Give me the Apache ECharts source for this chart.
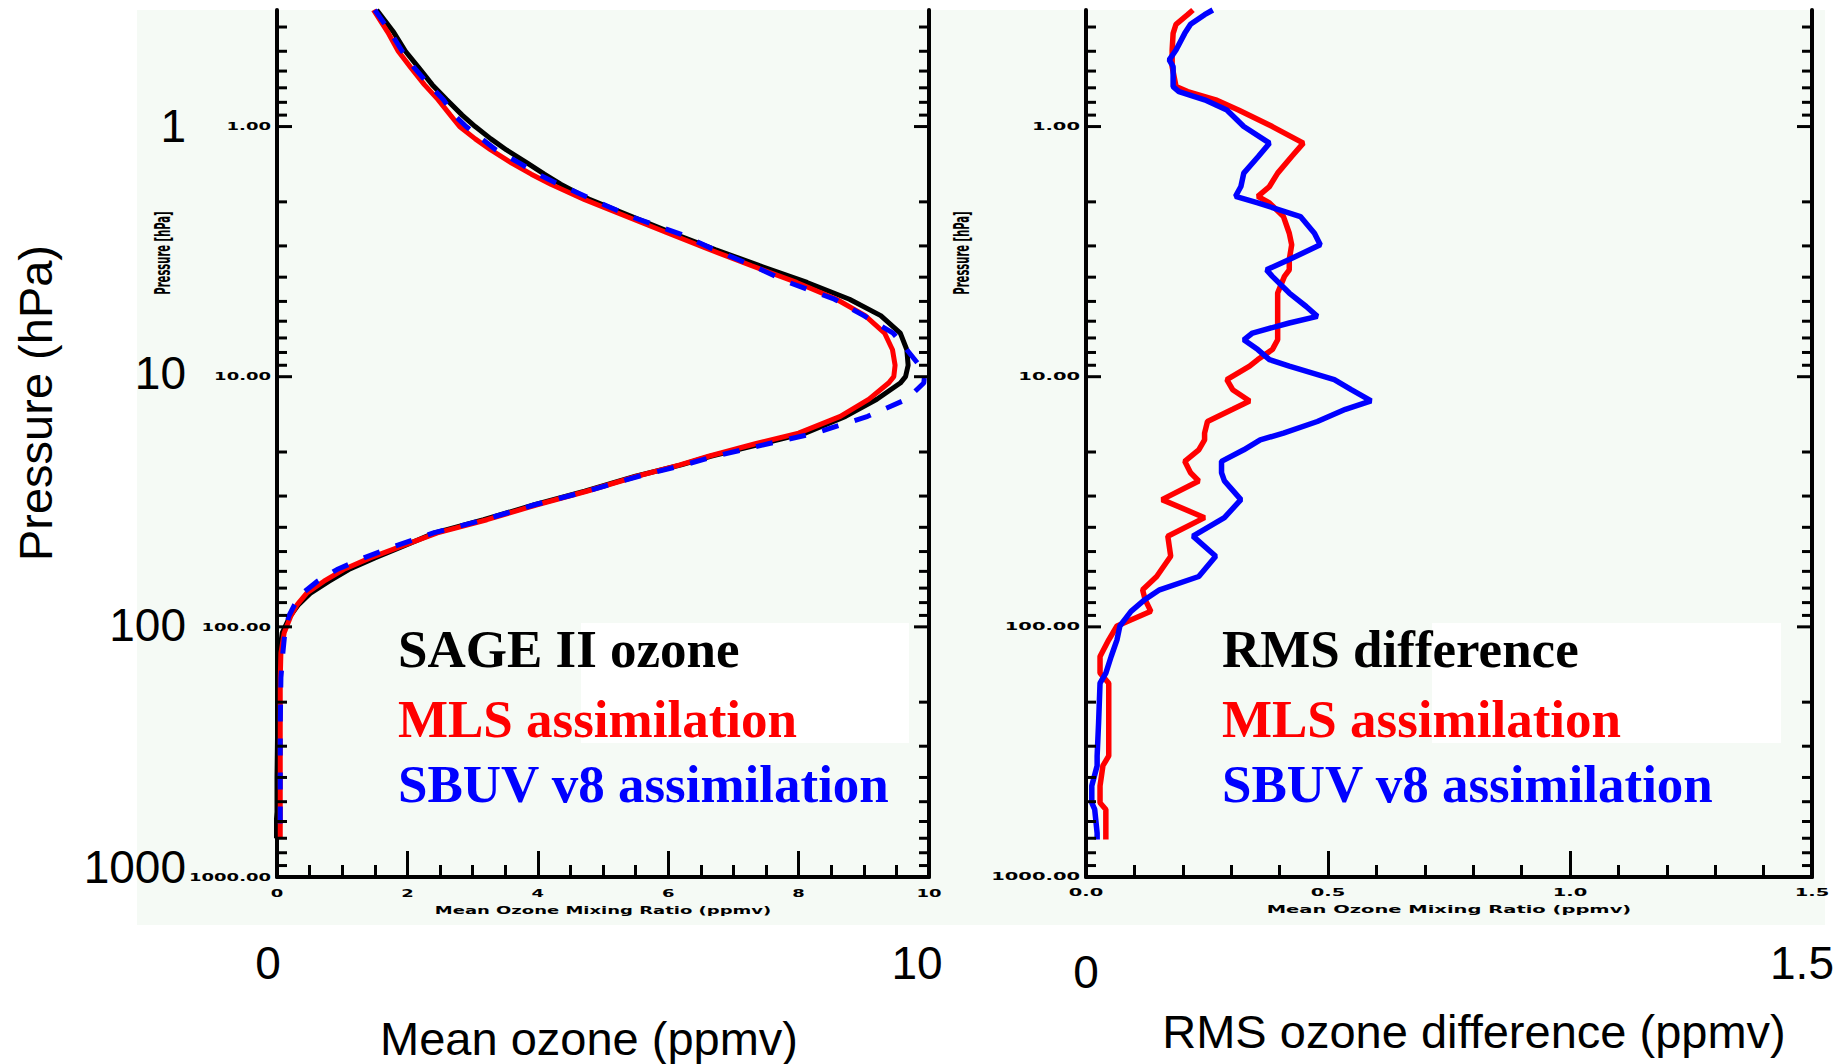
<!DOCTYPE html>
<html><head><meta charset="utf-8">
<script src="https://cdn.jsdelivr.net/npm/echarts@6/dist/echarts.min.js"></script>
<style>html,body{margin:0;padding:0;background:#fff}#c{width:1837px;height:1064px}</style>
</head><body><div id="c"></div>
<script>
// ---------- data ----------
const pressureMean = [0.342,0.42,0.5,0.58,0.68,0.78,0.9,1.0,1.12,1.24,
  1.4,1.55,1.7,1.96,2.3,2.7,3.1,3.6,4.2,4.9,
  5.7,6.7,7.8,9.0,10,10.6,12.3,14.4,16.8,18.5,
  20.8,22.5,25,28.7,32.5,37.3,42.1,48.3,53,59,
  65.7,73.1,81.5,90.7,105.7,127,160,250,400,550,700];
const sageOzone = [1.53,1.79,1.97,2.17,2.38,2.60,2.84,3.04,3.28,3.52,
  3.84,4.10,4.35,4.80,5.46,6.12,6.72,7.40,8.13,8.78,
  9.26,9.56,9.66,9.68,9.64,9.56,9.20,8.72,8.10,7.45,
  6.65,6.20,5.50,4.72,3.95,3.17,2.42,1.88,1.50,1.10,
  0.80,0.52,0.33,0.20,0.08,0.04,0.02,0.01,0.0,0.0,-0.03];
const mlsOzone = [1.48,1.70,1.86,2.05,2.26,2.47,2.66,2.80,3.04,3.28,
  3.60,3.90,4.20,4.72,5.38,6.05,6.63,7.28,7.97,8.58,
  9.02,9.32,9.44,9.48,9.46,9.38,9.08,8.64,8.00,7.35,
  6.62,6.18,5.52,4.75,3.99,3.22,2.46,1.84,1.43,1.02,
  0.72,0.46,0.31,0.21,0.11,0.06,0.05,0.05,0.05,0.05,0.05];
const sbuvOzone = [1.50,1.74,1.92,2.10,2.33,2.55,2.72,2.90,3.14,3.36,
  3.72,4.00,4.32,4.84,5.45,6.20,6.70,7.30,7.85,8.55,
  9.00,9.45,9.66,9.85,9.93,9.92,9.66,9.06,8.26,7.55,
  6.72,6.25,5.55,4.75,3.95,3.18,2.40,1.74,1.33,0.92,
  0.62,0.40,0.27,0.18,0.12,0.09,0.06,0.05,0.05,0.05,0.05];

const pressureRms = [0.342,0.357,0.39,0.424,0.494,0.541,0.576,0.692,0.725,0.782,
  0.858,1.0,1.165,1.318,1.535,1.737,1.9,2.02,2.29,2.67,
  2.97,3.40,3.74,3.97,4.63,5.24,5.74,6.10,6.69,7.12,
  7.79,8.54,9.08,10.27,11.27,12.5,13.5,15.1,16.8,17.9,
  19.6,21.8,24.2,26.1,31,36.6,43.4,52.2,62.9,71.1,
  77.7,86.7,99.2,112.7,131.4,153,168,242,328,359,
  432,505,537,668,708];
const mlsRms = [0.221,0.21,0.186,0.18,0.178,0.178,0.178,0.186,0.21,0.268,
  0.315,0.385,0.449,0.425,0.396,0.379,0.355,0.379,0.408,0.42,
  0.425,0.42,0.42,0.41,0.396,0.396,0.396,0.396,0.396,0.396,
  0.385,0.355,0.338,0.291,0.303,0.338,0.303,0.251,0.245,0.245,
  0.233,0.204,0.216,0.233,0.157,0.245,0.169,0.175,0.146,0.117,
  0.122,0.134,0.064,0.047,0.029,0.029,0.047,0.047,0.047,0.035,
  0.029,0.029,0.041,0.041,0.041];
const sbuvRms = [0.262,0.245,0.216,0.204,0.186,0.172,0.18,0.18,0.192,0.245,
  0.291,0.326,0.379,0.356,0.326,0.32,0.309,0.355,0.443,0.472,
  0.484,0.42,0.373,0.385,0.42,0.455,0.478,0.42,0.344,0.326,
  0.355,0.379,0.42,0.513,0.548,0.589,0.536,0.478,0.408,0.36,
  0.326,0.28,0.28,0.286,0.32,0.286,0.221,0.268,0.233,0.152,
  0.122,0.093,0.07,0.064,0.052,0.041,0.029,0.026,0.023,0.023,
  0.012,0.012,0.018,0.023,0.023];

// ticks and tick labels
const yMajorTicks = [1,10,100,1000];
const yTickLabels = ['1.00','10.00','100.00','1000.00'];
const yMinorTicks = [0.4,0.5,0.6,0.7,0.8,0.9,2,3,4,5,6,7,8,9,20,30,40,50,60,70,80,90,200,300,400,500,600,700,800,900];
const meanTicks = [0,2,4,6,8,10];
const meanTickLabels = ['0','2','4','6','8','10'];
const rmsTicks = [0,0.5,1.0,1.5];
const rmsTickLabels = ['0.0','0.5','1.0','1.5'];
const bigYLabels = ['1','10','100','1000'];

// ---------- chart ----------
const chart = echarts.init(document.getElementById('c'), null, {renderer:'svg'});
const TINY = 'bold 10px "DejaVu Sans"';
const BIG = '46px "Liberation Sans", Arial, sans-serif';
const TITLE = '47px "Liberation Sans", Arial, sans-serif';
const LEG = 'bold 53px "Liberation Serif", "Times New Roman", serif';

function yTickData(xmin){
  return yMajorTicks.map((p,i)=>[xmin,p,1,i]).concat(yMinorTicks.map(p=>[xmin,p,0,-1]));
}
function yTickRender(labelScale){
  return function(params, api){
    const cs = params.coordSys;
    const y = api.coord([api.value(0), api.value(1)])[1];
    const major = api.value(2) === 1;
    const len = major ? 15 : 10;
    const L = cs.x, R = cs.x + cs.width;
    const st = {stroke:'#000', lineWidth:3};
    const children = [
      {type:'line', shape:{x1:L, y1:y, x2:L+len, y2:y}, style:st},
      {type:'line', shape:{x1:R-len, y1:y, x2:R, y2:y}, style:st}
    ];
    if (major) {
      children.push({type:'text', x:L-6, y:y, scaleX:labelScale,
        style:{text:yTickLabels[api.value(3)], fill:'#000', font:TINY, align:'right', verticalAlign:'middle'}});
    }
    return {type:'group', children};
  };
}
function xLabelRender(labels, labelScale){
  return function(params, api){
    const pt = api.coord([api.value(0), api.value(1)]);
    return {type:'text', x:pt[0], y:pt[1]+16, scaleX:labelScale,
      style:{text:labels[api.value(2)], fill:'#000', font:TINY, align:'center', verticalAlign:'middle'}};
  };
}

const yBase = {type:'log', logBase:10, min:0.342, max:1000, inverse:true,
  axisLine:{show:true, onZero:false, lineStyle:{color:'#000', width:4}},
  axisTick:{show:false}, axisLabel:{show:false}, splitLine:{show:false}, minorTick:{show:false}};
const xBase = {type:'value', position:'bottom',
  axisLine:{show:true, onZero:false, lineStyle:{color:'#000', width:4}},
  axisTick:{show:true, inside:true, length:26, lineStyle:{color:'#000', width:3}},
  axisLabel:{show:false}, splitLine:{show:false}, minorSplitLine:{show:false}};

const lineSeries = (xi, yi, xs, ps, color, width, type, z) => ({
  type:'line', xAxisIndex:xi, yAxisIndex:yi,
  data: ps.map((p,i)=>[xs[i], p]),
  showSymbol:false, symbol:'none', clip:false, z:z,
  lineStyle:{color:color, width:width, type:type}, itemStyle:{color:color}
});

const option = {
  animation:false,
  backgroundColor:'#ffffff',
  grid:[
    {left:277, top:10, width:652, height:867},
    {left:1086, top:10, width:726, height:867}
  ],
  xAxis:[
    Object.assign({}, xBase, {gridIndex:0, min:0, max:10, interval:2,
      minorTick:{show:true, splitNumber:4, length:12, lineStyle:{color:'#000', width:3}}}),
    Object.assign({}, xBase, {gridIndex:1, min:0, max:1.5, interval:0.5,
      minorTick:{show:true, splitNumber:5, length:12, lineStyle:{color:'#000', width:3}}})
  ],
  yAxis:[
    Object.assign({}, yBase, {gridIndex:0, position:'left'}),
    Object.assign({}, yBase, {gridIndex:0, position:'right'}),
    Object.assign({}, yBase, {gridIndex:1, position:'left'}),
    Object.assign({}, yBase, {gridIndex:1, position:'right'})
  ],
  series:[
    lineSeries(0,0,sageOzone,pressureMean,'#000000',5,'solid',3),
    lineSeries(0,0,mlsOzone,pressureMean,'#ff0000',5,'solid',4),
    lineSeries(0,0,sbuvOzone,pressureMean,'#0000ff',5,[17,17],5),
    lineSeries(1,2,mlsRms,pressureRms,'#ff0000',5.5,'solid',4),
    lineSeries(1,2,sbuvRms,pressureRms,'#0000ff',5.5,'solid',5),
    {type:'custom', xAxisIndex:0, yAxisIndex:0, clip:false, z:6, silent:true,
      encode:{x:0, y:1}, data:yTickData(0), renderItem:yTickRender(1.8)},
    {type:'custom', xAxisIndex:1, yAxisIndex:2, clip:false, z:6, silent:true,
      encode:{x:0, y:1}, data:yTickData(0), renderItem:yTickRender(1.95)},
    {type:'custom', xAxisIndex:0, yAxisIndex:0, clip:false, z:6, silent:true,
      encode:{x:0, y:1}, data:meanTicks.map((v,i)=>[v,1000,i]), renderItem:xLabelRender(meanTickLabels,1.8)},
    {type:'custom', xAxisIndex:1, yAxisIndex:2, clip:false, z:6, silent:true,
      encode:{x:0, y:1}, data:rmsTicks.map((v,i)=>[v,1000,i]), renderItem:xLabelRender(rmsTickLabels,1.95)}
  ],
  graphic:[
    {type:'rect', z:-100, silent:true, shape:{x:137, y:10, width:1688, height:915}, style:{fill:'#f5faf5'}},
    {type:'rect', z:-50, silent:true, shape:{x:581, y:623, width:328, height:120}, style:{fill:'#ffffff'}},
    {type:'rect', z:-50, silent:true, shape:{x:1432, y:623, width:349, height:120}, style:{fill:'#ffffff'}},
    // legends
    {type:'text', z:100, x:398, y:649, style:{text:'SAGE II ozone', fill:'#000000', font:LEG, align:'left', verticalAlign:'middle'}},
    {type:'text', z:100, x:398, y:719, style:{text:'MLS assimilation', fill:'#ff0000', font:LEG, align:'left', verticalAlign:'middle'}},
    {type:'text', z:100, x:398, y:784, style:{text:'SBUV v8 assimilation', fill:'#0000ff', font:LEG, align:'left', verticalAlign:'middle'}},
    {type:'text', z:100, x:1222, y:649, style:{text:'RMS difference', fill:'#000000', font:LEG, align:'left', verticalAlign:'middle'}},
    {type:'text', z:100, x:1222, y:719, style:{text:'MLS assimilation', fill:'#ff0000', font:LEG, align:'left', verticalAlign:'middle'}},
    {type:'text', z:100, x:1222, y:784, style:{text:'SBUV v8 assimilation', fill:'#0000ff', font:LEG, align:'left', verticalAlign:'middle'}},
    // big pressure labels
    {type:'text', z:100, x:186, y:126, style:{text:bigYLabels[0], fill:'#000', font:BIG, align:'right', verticalAlign:'middle'}},
    {type:'text', z:100, x:186, y:373, style:{text:bigYLabels[1], fill:'#000', font:BIG, align:'right', verticalAlign:'middle'}},
    {type:'text', z:100, x:186, y:625, style:{text:bigYLabels[2], fill:'#000', font:BIG, align:'right', verticalAlign:'middle'}},
    {type:'text', z:100, x:186, y:867, style:{text:bigYLabels[3], fill:'#000', font:BIG, align:'right', verticalAlign:'middle'}},
    {type:'text', z:100, x:35, y:403, rotation:Math.PI/2, style:{text:'Pressure (hPa)', fill:'#000', font:TITLE, align:'center', verticalAlign:'middle'}},
    // big x labels
    {type:'text', z:100, x:268, y:963, style:{text:'0', fill:'#000', font:BIG, align:'center', verticalAlign:'middle'}},
    {type:'text', z:100, x:917, y:963, style:{text:'10', fill:'#000', font:BIG, align:'center', verticalAlign:'middle'}},
    {type:'text', z:100, x:1086, y:972, style:{text:'0', fill:'#000', font:BIG, align:'center', verticalAlign:'middle'}},
    {type:'text', z:100, x:1802, y:963, style:{text:'1.5', fill:'#000', font:BIG, align:'center', verticalAlign:'middle'}},
    {type:'text', z:100, x:589, y:1038, style:{text:'Mean ozone (ppmv)', fill:'#000', font:TITLE, align:'center', verticalAlign:'middle'}},
    {type:'text', z:100, x:1474, y:1031, style:{text:'RMS ozone difference (ppmv)', fill:'#000', font:TITLE, align:'center', verticalAlign:'middle'}},
    // tiny axis names
    {type:'text', z:100, x:603, y:910, scaleX:1.8, style:{text:'Mean Ozone Mixing Ratio (ppmv)', fill:'#000', font:TINY, align:'center', verticalAlign:'middle'}},
    {type:'text', z:100, x:1449, y:910, scaleX:1.95, style:{text:'Mean Ozone Mixing Ratio (ppmv)', fill:'#000', font:TINY, align:'center', verticalAlign:'middle'}},
    {type:'text', z:100, x:162, y:253, rotation:Math.PI/2, scaleY:2.2, style:{text:'Pressure [hPa]', fill:'#000', font:TINY, align:'center', verticalAlign:'middle'}},
    {type:'text', z:100, x:961, y:253, rotation:Math.PI/2, scaleY:2.2, style:{text:'Pressure [hPa]', fill:'#000', font:TINY, align:'center', verticalAlign:'middle'}}
  ]
};
chart.setOption(option);
</script>
</body></html>
